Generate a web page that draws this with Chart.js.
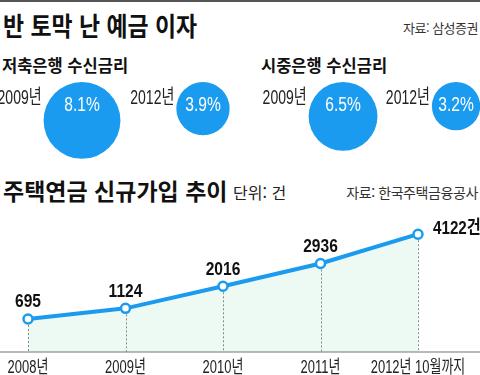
<!DOCTYPE html>
<html lang="ko">
<head>
<meta charset="UTF-8">
<title>반 토막 난 예금 이자</title>
<script src="https://cdn.jsdelivr.net/npm/chart.js@4.4.1/dist/chart.umd.min.js"></script>
<style>
  body { margin:0; width:480px; height:375px; position:relative; overflow:hidden; background:#fff;
         font-family:'Noto Sans CJK KR', sans-serif; color:#111; }
  .t { position:absolute; white-space:nowrap; line-height:1; transform-origin:left center; }
  .box { position:absolute; }
</style>
</head>
<body>
<div style="position:absolute;left:0;top:0;width:480px;height:2px;background:#555"></div>
<div class="t" style="left:3px;top:12px;font-size:26px;font-weight:bold;transform:scaleX(0.88)">반 토막 난 예금 이자</div>
<div class="t" style="right:2px;top:21px;font-size:13px;color:#333;letter-spacing:-0.5px">자료: 삼성증권</div>
<div class="t" style="left:2px;top:57px;font-size:16.5px;font-weight:bold">저축은행 수신금리</div>
<div class="t" style="left:261px;top:57px;font-size:16.5px;font-weight:bold">시중은행 수신금리</div>
<div class="t" style="left:3px;top:179px;font-size:23px;font-weight:bold">주택연금 신규가입 추이</div>
<div class="t" style="left:233px;top:184px;font-size:16px;color:#222">단위: 건</div>
<div class="t" style="right:2px;top:185px;font-size:14px;color:#333;letter-spacing:-0.4px">자료: 한국주택금융공사</div>

<div class="box" style="left:0;top:75px;width:240px;height:100px"><canvas id="savings"></canvas></div>
<div class="box" style="left:240px;top:75px;width:240px;height:100px"><canvas id="commercial"></canvas></div>
<div class="box" style="left:0;top:200px;width:480px;height:175px"><canvas id="pension"></canvas></div>

<script>
// 수신금리 (%)
var rateYears = ['2009년', '2012년']
var savingsRates = [8.1, 3.9]
var commercialRates = [6.5, 3.2]

// 주택연금 신규가입 (건)
var pensionYears = ['2008년', '2009년', '2010년', '2011년', '2012년 10월까지']
var pensionCounts = [695, 1124, 2016, 2936, 4122]

var blue = '#1a9bf0'
var sans = "'Liberation Sans', 'Noto Sans CJK KR', sans-serif"

function txt(ctx, s, x, y, font, color, align, sx) {
  ctx.save()
  ctx.font = font
  ctx.fillStyle = color
  ctx.textBaseline = 'middle'
  ctx.textAlign = align
  ctx.translate(x, y)
  ctx.scale(sx, 1)
  ctx.fillText(s, 0, 0)
  ctx.restore()
}

// bubble radius from area
function radius(v) { return Math.sqrt(v) * 13.5 }

var bubbleLabels = {
  id: 'bubbleLabels',
  afterDatasetsDraw(chart) {
    var ctx = chart.ctx
    chart.getDatasetMeta(0).data.forEach(function (el, i) {
      var r = el.options.radius
      var top = el.y - r
      txt(ctx, rateYears[i], el.x - r - 2, top + 16, '20px ' + sans, '#222', 'right', 0.7)
      txt(ctx, chart.data.datasets[0].values[i].toFixed(1) + '%', el.x, top + 23, '20px ' + sans, '#fff', 'center', 0.78)
    })
  }
}

function bubbleChart(id, rates, xmin, xmax) {
  return new Chart(document.getElementById(id), {
    type: 'bubble',
    data: {
      datasets: [{
        values: rates,
        data: rates.map(function (v, i) { return { x: i, y: radius(v), r: radius(v) } }),
        backgroundColor: blue,
        borderWidth: 0,
        clip: false
      }]
    },
    options: {
      responsive: true,
      maintainAspectRatio: false,
      animation: false,
      layout: { autoPadding: false, padding: { top: 7, left: 0, right: 0, bottom: 0 } },
      scales: {
        x: { type: 'linear', display: false, min: xmin, max: xmax },
        y: { type: 'linear', display: false, reverse: true, min: 0, max: 93 }
      },
      plugins: { legend: { display: false }, tooltip: { enabled: false } }
    },
    plugins: [bubbleLabels]
  })
}

bubbleChart('savings', savingsRates, -0.678, 1.306)
bubbleChart('commercial', commercialRates, -0.912, 1.212)

var lineDecor = {
  id: 'lineDecor',
  afterDatasetsDraw(chart) {
    var ctx = chart.ctx
    var area = chart.chartArea
    var pts = chart.getDatasetMeta(0).data
    // 점선
    ctx.save()
    ctx.strokeStyle = '#888'
    ctx.lineWidth = 1
    ctx.setLineDash([2, 2])
    pts.forEach(function (p) {
      ctx.beginPath()
      ctx.moveTo(Math.round(p.x) + 0.5, p.y + 6)
      ctx.lineTo(Math.round(p.x) + 0.5, area.bottom)
      ctx.stroke()
    })
    ctx.restore()
    // 기준선
    ctx.save()
    ctx.strokeStyle = '#777'
    ctx.lineWidth = 1.2
    ctx.beginPath()
    ctx.moveTo(0, area.bottom)
    ctx.lineTo(chart.width, area.bottom)
    ctx.stroke()
    ctx.restore()
    // 값 라벨
    pts.forEach(function (p, i) {
      var v = pensionCounts[i]
      if (i === pts.length - 1) {
        txt(ctx, v + '건', p.x + 15, p.y - 5, 'bold 19px ' + sans, '#111', 'left', 0.8)
      } else {
        txt(ctx, String(v), p.x, p.y - 17, 'bold 19px ' + sans, '#111', 'center', 0.82)
      }
    })
    // x축 라벨
    var xs = chart.scales.x
    xs.ticks.forEach(function (t, i) {
      txt(ctx, xs.getLabelForValue(t.value), xs.getPixelForTick(i), area.bottom + 16, '18px ' + sans, '#222', 'center', 0.72)
    })
  }
}

new Chart(document.getElementById('pension'), {
  type: 'line',
  data: {
    labels: pensionYears,
    datasets: [{
      data: pensionCounts,
      borderColor: blue,
      borderWidth: 4,
      backgroundColor: '#edf9f3',
      fill: 'start',
      tension: 0,
      pointRadius: 4.5,
      pointBorderWidth: 2.5,
      pointBackgroundColor: '#fff',
      pointBorderColor: blue,
      clip: false
    }]
  },
  options: {
    responsive: true,
    maintainAspectRatio: false,
    animation: false,
    layout: { autoPadding: false, padding: { top: 10, left: 28, right: 62, bottom: 23 } },
    scales: {
      x: { display: false, offset: false },
      y: { display: false, min: -640, max: 5100 }
    },
    plugins: { legend: { display: false }, tooltip: { enabled: false } }
  },
  plugins: [lineDecor]
})
</script>
</body>
</html>
